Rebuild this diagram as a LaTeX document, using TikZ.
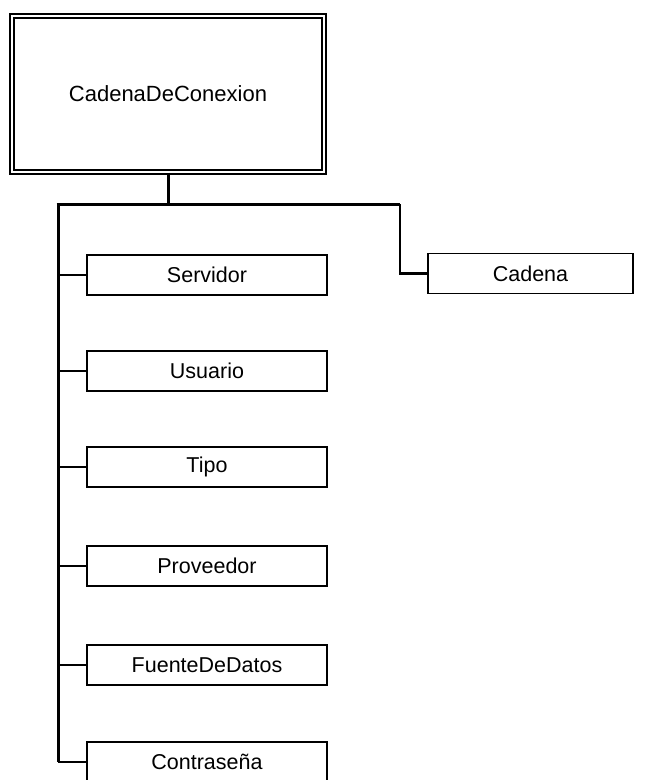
\documentclass[tikz,border=0pt]{standalone}
\usepackage{fontspec}
\setmainfont{Liberation Sans}
\begin{document}
\begin{tikzpicture}[x=1pt,y=-1pt,
  topbox/.style={draw,double,line width=1.8pt,double distance=2pt,minimum width=312pt,minimum height=156pt,inner sep=0pt,font=\fontsize{22}{24}\selectfont},
  childbox/.style={draw,line width=1.5pt,minimum width=240pt,minimum height=40pt,inner sep=0pt,font=\fontsize{21.5}{24}\selectfont},
  cadbox/.style={childbox,minimum width=205pt},
  trunk/.style={line width=3pt},
  branch/.style={line width=2.2pt}]
\useasboundingbox (0,0) rectangle (662,780);
\clip (0,0) rectangle (662,780);
\fill[white] (0,0) rectangle (662,780);
\node[topbox] (top) at (168,94) {CadenaDeConexion};
\node[childbox] (serv) at (207,275) {Servidor};
\node[childbox] (usu) at (207,371) {Usuario};
\node[childbox] (tipo) at (207,467) {Tipo};
\node[childbox] (prov) at (207,566) {Proveedor};
\node[childbox] (fue) at (207,665) {FuenteDeDatos};
\node[childbox] (con) at (207,762) {Contraseña};
\node[cadbox] (cad) at (530.5,273.5) {Cadena};
\coordinate (j) at (168,204);
\coordinate (l) at (58,204);
\coordinate (r) at (400,204);
\draw[trunk] (top.south) -- (j);
\draw[trunk] ([xshift=-1.5pt]l) -- (r);
\draw[branch] (r) -- (r |- cad.west) -- (cad.west);
\draw[trunk] (l) -- (l |- con.west);
\foreach \n in {serv,usu,tipo,prov,fue,con}
  \draw[branch] (l |- \n.west) -- (\n.west);
\end{tikzpicture}
\end{document}
